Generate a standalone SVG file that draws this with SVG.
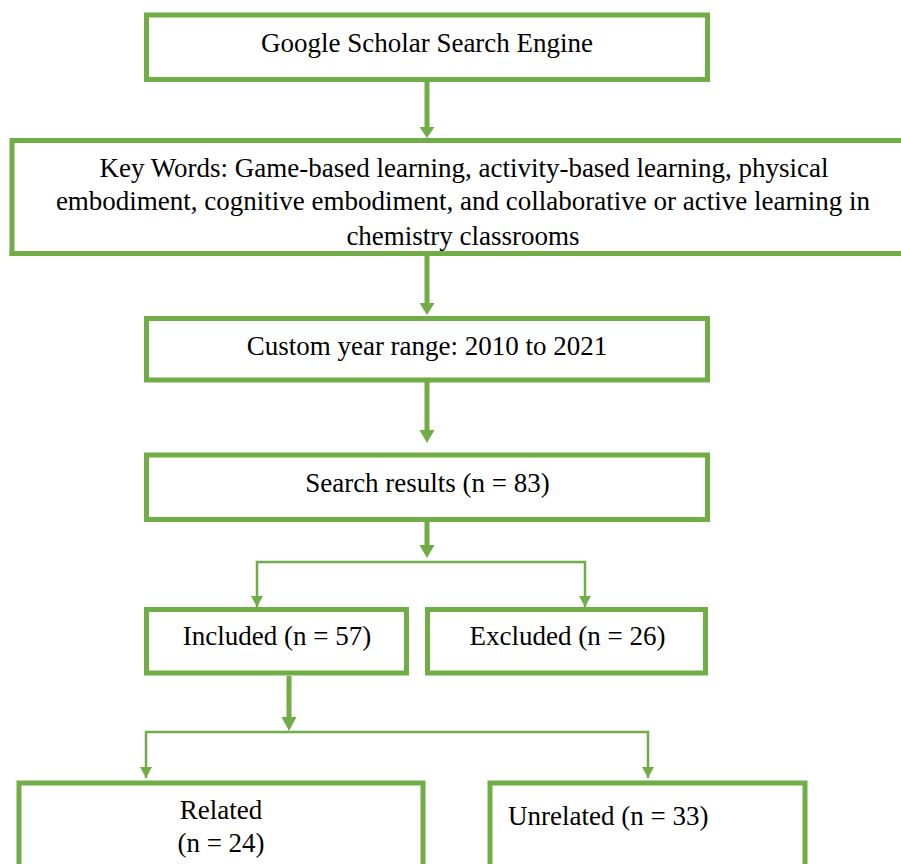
<svg xmlns="http://www.w3.org/2000/svg" width="901" height="864" viewBox="0 0 901 864">
<style>
  .box { fill: #ffffff; stroke: #70AD47; stroke-width: 5; }
  .t { font-family: "Liberation Serif", "Times New Roman", serif; font-size: 27px; fill: #000000; }
  .c { text-anchor: middle; }
  .thick { stroke: #70AD47; stroke-width: 5; fill: none; }
  .thin { stroke: #70AD47; stroke-width: 2.5; fill: none; }
  .head { fill: #70AD47; }
</style>
<rect width="901" height="864" fill="#ffffff"/>
<g id="connectors">
  <line class="thick" x1="427" y1="82" x2="427" y2="128"/>
  <polygon class="head" points="419.5,127 434.5,127 427,138"/>
  <line class="thick" x1="427" y1="256" x2="427" y2="304"/>
  <polygon class="head" points="419.5,303 434.5,303 427,315"/>
  <line class="thick" x1="427" y1="382" x2="427" y2="431"/>
  <polygon class="head" points="419.5,430 434.5,430 427,443"/>
  <line class="thick" x1="427" y1="522" x2="427" y2="546"/>
  <polygon class="head" points="419.5,545 434.5,545 427,558"/>
  <polyline class="thin" points="257,607 257,562 585,562 585,607"/>
  <polygon class="head" points="251,596 263,596 257,607"/>
  <polygon class="head" points="579,596 591,596 585,607"/>
  <line class="thick" x1="289" y1="676" x2="289" y2="718"/>
  <polygon class="head" points="281.5,717 296.5,717 289,731"/>
  <polyline class="thin" points="146,778 146,732 648,732 648,778"/>
  <polygon class="head" points="140,767 152,767 146,778"/>
  <polygon class="head" points="642,767 654,767 648,778"/>
</g>
<g id="google-scholar">
  <rect class="box" x="146.5" y="15" width="561" height="64.5"/>
  <text class="t c" x="427" y="52">Google Scholar Search Engine</text>
</g>
<g id="key-words">
  <rect class="box" x="12" y="140.5" width="900" height="113"/>
  <text class="t c" x="464" y="177">Key Words: Game-based learning, activity-based learning, physical</text>
  <text class="t c" x="463" y="210">embodiment, cognitive embodiment, and collaborative or active learning in</text>
  <text class="t c" x="463" y="245">chemistry classrooms</text>
  <line x1="9.5" y1="253.5" x2="901" y2="253.5" stroke="#70AD47" stroke-width="5"/>
</g>
<g id="year-range">
  <rect class="box" x="146.5" y="318.5" width="561" height="61.5"/>
  <text class="t c" x="427" y="355">Custom year range: 2010 to 2021</text>
</g>
<g id="search-results">
  <rect class="box" x="146.5" y="455" width="561" height="64.5"/>
  <text class="t c" x="427.5" y="492">Search results (n = 83)</text>
</g>
<g id="included">
  <rect class="box" x="146.5" y="609.5" width="260" height="63.5"/>
  <text class="t c" x="277" y="645">Included (n = 57)</text>
</g>
<g id="excluded">
  <rect class="box" x="427.5" y="609.5" width="278" height="63.5"/>
  <text class="t c" x="567.5" y="645">Excluded (n = 26)</text>
</g>
<g id="related">
  <rect class="box" x="19" y="783" width="404" height="90"/>
  <text class="t c" x="221" y="819">Related</text>
  <text class="t c" x="221" y="852">(n = 24)</text>
</g>
<g id="unrelated">
  <rect class="box" x="490" y="783" width="315" height="90"/>
  <text class="t" x="508" y="825">Unrelated (n = 33)</text>
</g>
</svg>
